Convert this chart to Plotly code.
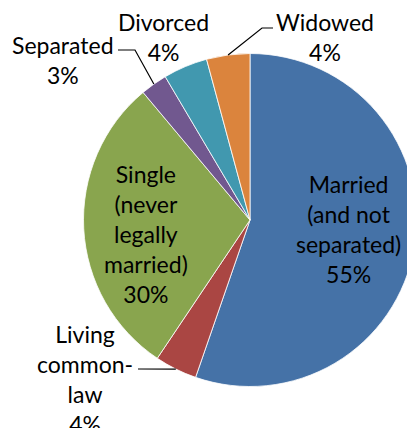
import math
import plotly.graph_objects as go

# ---- data ----
categories = ["Married<br>(and not<br>separated)", "Living<br>common-<br>law",
              "Single<br>(never<br>legally<br>married)", "Separated", "Divorced", "Widowed"]
values = [55.3, 4.1, 29.5, 2.6, 4.3, 4.2]
colors = ["#4572A7", "#AA4643", "#89A54E", "#71588F", "#4198AF", "#DB843D"]

# ---- layout geometry (pixels) ----
W, H = 500, 428
CX, CY, R = 250, 220, 166.5
FONT = dict(family="Lato, Carlito, 'Liberation Sans', sans-serif", size=23, color="#000000")

label_pos = {  # label centre positions in pixels
    0: (348, 229), 1: (85, 379), 2: (146, 234),
    3: (63, 60), 4: (163, 37), 5: (325, 37),
}
leader_pts = {  # elbow / end points of leader lines in pixels
    1: [(138, 369)],
    3: [(135, 50), (118, 50)],
    5: [(262, 28), (273, 28)],
}

def px2paper(x, y):
    return x / W, 1 - y / H

fig = go.Figure(go.Pie(
    labels=[c.replace("<br>", " ") for c in categories],
    values=values,
    sort=False,
    direction="clockwise",
    rotation=0,
    marker=dict(colors=colors, line=dict(color="#FFFFFF", width=0.8)),
    textinfo="none",
    hoverinfo="label+percent",
    showlegend=False,
    domain=dict(x=[(CX - R) / W, (CX + R) / W], y=[1 - (CY + R) / H, 1 - (CY - R) / H]),
))

total = sum(values)
cum = 0.0
annotations, shapes = [], []
for i, (cat, v) in enumerate(zip(categories, values)):
    mid = (cum + v / 2) / total * 2 * math.pi
    cum += v
    ax_, ay_ = CX + R * math.sin(mid), CY - R * math.cos(mid)
    lx, ly = label_pos[i]
    x, y = px2paper(lx, ly)
    annotations.append(dict(
        x=x, y=y, xref="paper", yref="paper", xanchor="center", yanchor="middle",
        text=f"{cat}<br>{round(v / total * 100)}%", showarrow=False, font=FONT, align="center",
    ))
    if i in leader_pts:
        pts = [(ax_, ay_)] + leader_pts[i]
        path = "M " + " L ".join(f"{px2paper(px, py)[0]:.5f},{px2paper(px, py)[1]:.5f}" for px, py in pts)
        shapes.append(dict(type="path", path=path, xref="paper", yref="paper",
                           line=dict(color="#000000", width=1.2)))

fig.update_layout(
    width=W, height=H,
    margin=dict(l=0, r=0, t=0, b=0),
    paper_bgcolor="#FFFFFF", plot_bgcolor="#FFFFFF",
    annotations=annotations, shapes=shapes,
)

fig.write_html("out.html", post_script=(
    "document.body.style.margin='0';"
    "document.body.style.overflow='hidden';"
    "document.documentElement.style.overflow='hidden';"
))
